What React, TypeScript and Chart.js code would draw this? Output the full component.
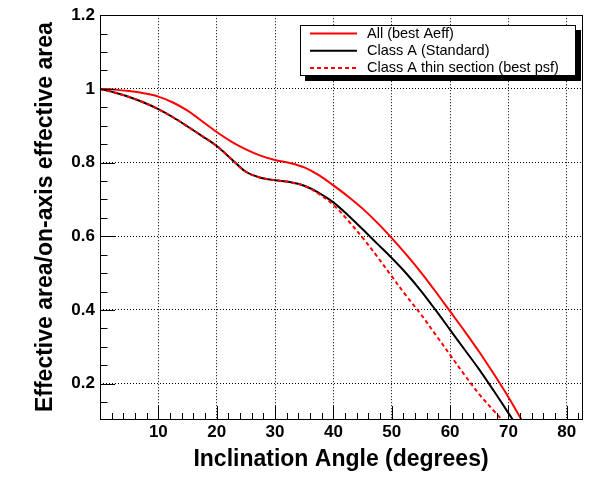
import React, { useEffect, useRef } from "react";
import { Chart, registerables } from "chart.js";

Chart.register(...registerables);

// ---- data ----
const angles = [
  0, 2.5, 5, 7.5, 10, 12.5, 15, 17.5, 20, 22.5, 25, 27.5, 30, 32.5, 35, 37.5,
  40, 42.5, 45, 47.5, 50, 52.5, 55, 57.5, 60, 62.5, 65, 67.5, 70, 72.5,
];
const allBestAeff = [
  1.0, 0.998, 0.994, 0.988, 0.979, 0.963, 0.941, 0.912, 0.883, 0.857, 0.836, 0.819,
  0.807, 0.799, 0.787, 0.766, 0.738, 0.708, 0.675, 0.637, 0.595, 0.55, 0.502,
  0.45, 0.396, 0.342, 0.286, 0.226, 0.163, 0.095,
];
const classAStandard = [
  1.0, 0.99, 0.978, 0.963, 0.945, 0.923, 0.898, 0.872, 0.845, 0.81, 0.775,
  0.759, 0.752, 0.747, 0.737, 0.718, 0.692, 0.657, 0.619, 0.58, 0.541, 0.499,
  0.452, 0.4, 0.346, 0.292, 0.238, 0.18, 0.12, 0.058,
];
const classAThin = [
  1.0, 0.99, 0.978, 0.963, 0.945, 0.923, 0.898, 0.872, 0.845, 0.81, 0.775,
  0.759, 0.752, 0.747, 0.737, 0.715, 0.685, 0.643, 0.596, 0.545, 0.491, 0.438,
  0.388, 0.333, 0.278, 0.223, 0.171, 0.126, 0.082, 0.035,
];
const seriesLabels = [
  "All (best Aeff)",
  "Class A (Standard)",
  "Class A thin section (best psf)",
];
const xTickValues = [0, 10, 20, 30, 40, 50, 60, 70, 80];
const yTickValues = [0.2, 0.4, 0.6, 0.8, 1, 1.2];
const xTitle = "Inclination Angle (degrees)";
const yTitle = "Effective area/on-axis effective area";

const FONT = '"Liberation Sans", Arial, Helvetica, sans-serif';

const toPoints = (ys: number[]) => angles.map((x, i) => ({ x, y: ys[i] }));

const framePlugin = {
  id: "rootFrame",
  afterDatasetsDraw(chart: any) {
    const { ctx, chartArea } = chart;
    const xs = chart.scales.x;
    const ys = chart.scales.y;
    const { left, right, top, bottom } = chartArea;
    ctx.save();
    ctx.strokeStyle = "#000";
    ctx.lineWidth = 1;
    ctx.setLineDash([]);
    ctx.strokeRect(Math.round(left) + 0.5, Math.round(top) + 0.5, Math.round(right - left), Math.round(bottom - top));
    ctx.beginPath();
    // y ticks (inside)
    for (let v = 0.15; v <= 1.2001; v += 0.05) {
      const y = Math.round(ys.getPixelForValue(v)) + 0.5;
      if (y < top || y > bottom) continue;
      const isMajor = yTickValues.some((t) => Math.abs(t - v) < 1e-6);
      ctx.moveTo(left, y);
      ctx.lineTo(left + (isMajor ? 15 : 7.5), y);
    }
    // x ticks (inside)
    for (let v = 2; v <= 82.6; v += 2) {
      const x = Math.round(xs.getPixelForValue(v)) + 0.5;
      if (x < left || x > right) continue;
      const isMajor = xTickValues.some((t) => Math.abs(t - v) < 1e-6);
      ctx.moveTo(x, bottom);
      ctx.lineTo(x, bottom - (isMajor ? 13 : 6));
    }
    ctx.stroke();
    ctx.restore();
  },
};

const legendPlugin = {
  id: "rootLegend",
  afterDraw(chart: any) {
    const ctx = chart.ctx;
    const bx = 300, by = 25, bw = 275, bh = 50;
    ctx.save();
    ctx.fillStyle = "#000";
    ctx.fillRect(bx + 5, by + 5, bw + 1, bh + 1);
    ctx.fillStyle = "#fff";
    ctx.fillRect(bx, by, bw, bh);
    ctx.strokeStyle = "#000";
    ctx.lineWidth = 1;
    ctx.strokeRect(bx + 0.5, by + 0.5, bw, bh);
    const order = [0, 1, 2];
    order.forEach((idx, row) => {
      const ds = chart.data.datasets[idx];
      const y = by + 8.5 + row * 17.2;
      ctx.beginPath();
      ctx.strokeStyle = ds.borderColor;
      ctx.lineWidth = 2;
      ctx.setLineDash(ds.borderDash || []);
      ctx.moveTo(bx + 10, y);
      ctx.lineTo(bx + 57, y);
      ctx.stroke();
      ctx.setLineDash([]);
      ctx.fillStyle = "#000";
      ctx.font = `14.5px ${FONT}`;
      ctx.textBaseline = "middle";
      ctx.textAlign = "left";
      ctx.fillText(ds.label, bx + 67, y + 0.5);
    });
    ctx.restore();
  },
};

export default function App() {
  const ref = useRef<HTMLCanvasElement | null>(null);

  useEffect(() => {
    document.body.style.margin = "0";
    const canvas = ref.current;
    if (!canvas) return;
    const chart = new Chart(canvas, {
      type: "line",
      data: {
        datasets: [
          {
            label: seriesLabels[0],
            data: toPoints(allBestAeff),
            borderColor: "#ff0000",
            borderWidth: 2,
            pointRadius: 0,
            tension: 0.35,
            order: 2,
          },
          {
            label: seriesLabels[1],
            data: toPoints(classAStandard),
            borderColor: "#000000",
            borderWidth: 2,
            pointRadius: 0,
            tension: 0.35,
            order: 1,
          },
          {
            label: seriesLabels[2],
            data: toPoints(classAThin),
            borderColor: "#ff0000",
            borderWidth: 2,
            borderDash: [4, 3],
            pointRadius: 0,
            tension: 0.35,
            order: 0,
          },
        ] as any,
      },
      options: {
        animation: false,
        responsive: false,
        devicePixelRatio: 1,
        layout: { padding: { left: 0, top: 14, right: 12, bottom: 0 } },
        plugins: {
          legend: { display: false },
          tooltip: { enabled: false },
        },
        scales: {
          x: {
            type: "linear",
            min: 0,
            max: 82.6,
            afterBuildTicks: (s: any) => {
              s.ticks = xTickValues.map((v) => ({ value: v }));
            },
            afterFit: (s: any) => {
              s.height = 63;
            },
            ticks: {
              callback: (v: any) => (v === 0 ? "" : String(v)),
              font: { family: FONT, size: 17, weight: "bold" },
              color: "#000",
              padding: 3,
              maxRotation: 0,
              autoSkip: false,
            },
            grid: {
              drawTicks: false,
              lineWidth: 1,
              color: (c: any) => (c.tick && c.tick.value === 0 ? "rgba(0,0,0,0)" : "#000"),
            },
            border: { display: false, dash: [1, 2] },
            title: {
              display: true,
              text: xTitle,
              color: "#000",
              font: { family: FONT, size: 23, weight: "bold" },
              padding: { top: 0, bottom: 9 },
            },
          },
          y: {
            type: "linear",
            min: 0.104,
            max: 1.2,
            afterBuildTicks: (s: any) => {
              s.ticks = yTickValues.map((v) => ({ value: v }));
            },
            afterFit: (s: any) => {
              s.width = 100;
            },
            ticks: {
              callback: (v: any) => String(Math.round(v * 10) / 10),
              font: { family: FONT, size: 17, weight: "bold" },
              color: "#000",
              padding: 5,
              autoSkip: false,
            },
            grid: {
              drawTicks: false,
              lineWidth: 1,
              color: "#000",
            },
            border: { display: false, dash: [1, 2] },
            title: {
              display: true,
              text: yTitle,
              color: "#000",
              font: { family: FONT, size: 23, weight: "bold" },
              padding: { top: 32, bottom: 0 },
            },
          },
        },
      } as any,
      plugins: [framePlugin, legendPlugin],
    });
    return () => chart.destroy();
  }, []);

  return (
    <div style={{ width: 594, height: 482, background: "#fff" }}>
      <canvas ref={ref} width={594} height={482} style={{ display: "block" }} />
    </div>
  );
}
